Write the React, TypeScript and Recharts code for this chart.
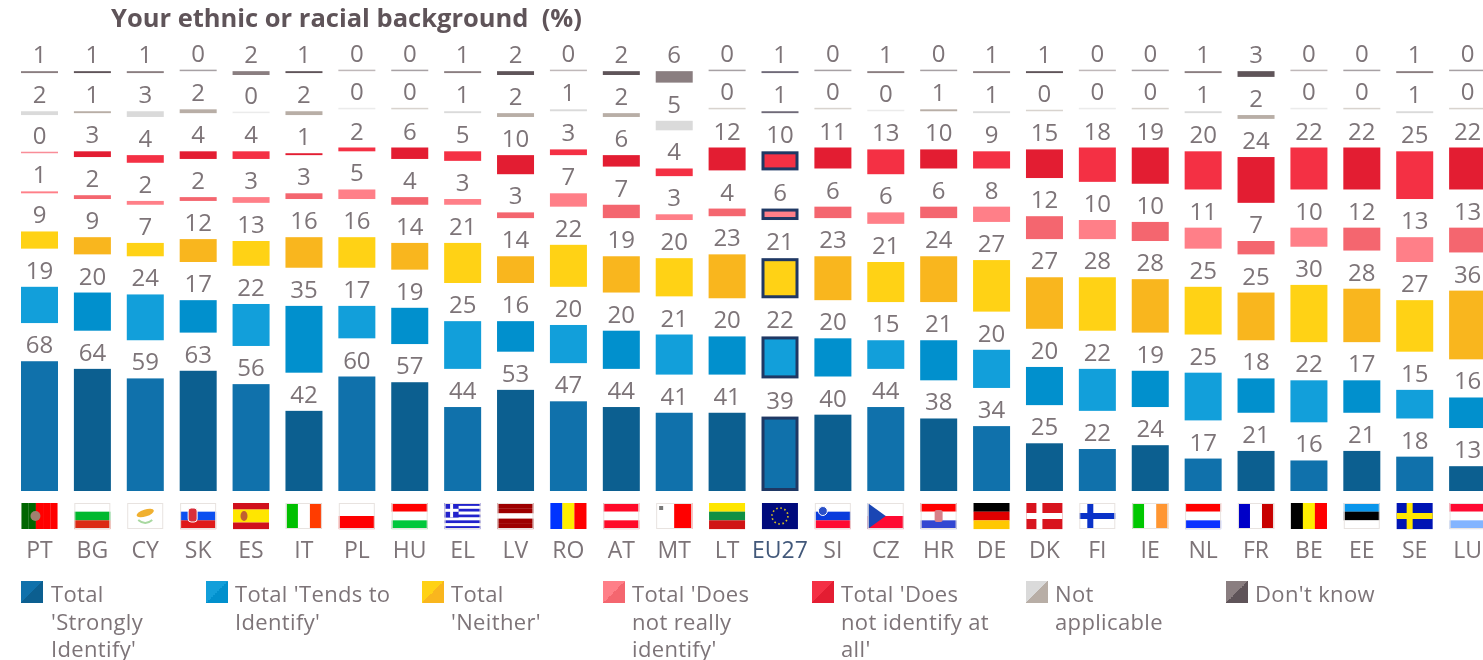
import { BarChart, Bar, XAxis, YAxis, LabelList } from "recharts";

const countries = ["PT","BG","CY","SK","ES","IT","PL","HU","EL","LV","RO","AT","MT","LT","EU27","SI","CZ","HR","DE","DK","FI","IE","NL","FR","BE","EE","SE","LU"];
const strongly = [68,64,59,63,56,42,60,57,44,53,47,44,41,41,39,40,44,38,34,25,22,24,17,21,16,21,18,13];
const tends = [19,20,24,17,22,35,17,19,25,16,20,20,21,20,22,20,15,21,20,20,22,19,25,18,22,17,15,16];
const neither = [9,9,7,12,13,16,16,14,21,14,22,19,20,23,21,23,21,24,27,27,28,28,25,25,30,28,27,36];
const notReally = [1,2,2,2,3,3,5,4,3,3,7,7,3,4,6,6,6,6,8,12,10,10,11,7,10,12,13,13];
const notAtAll = [0,3,4,4,4,1,2,6,5,10,3,6,4,12,10,11,13,10,9,15,18,19,20,24,22,22,25,22];
const notApplicable = [2,1,3,2,0,2,0,0,1,2,1,2,5,0,1,0,0,1,1,0,0,0,1,2,0,0,1,0];
const dontKnow = [1,1,1,0,2,1,0,0,1,2,0,2,6,0,1,0,1,0,1,1,0,0,1,3,0,0,1,0];

const GAP = 20; // empty room between the segments, holds the labels

const series = [
  { key: "strongly", values: strongly, light: "#1071ab", dark: "#0c5f90", legend: ["Total", "'Strongly", "Identify'"], swatchX: 21, textX: 51 },
  { key: "tends", values: tends, light: "#129fda", dark: "#0190cd", legend: ["Total 'Tends to", "Identify'"], swatchX: 206, textX: 235 },
  { key: "neither", values: neither, light: "#ffd215", dark: "#f9b61e", legend: ["Total", "'Neither'"], swatchX: 422, textX: 451 },
  { key: "notReally", values: notReally, light: "#ff7f88", dark: "#f4666f", legend: ["Total 'Does", "not really", "identify'"], swatchX: 603, textX: 632 },
  { key: "notAtAll", values: notAtAll, light: "#f43044", dark: "#e31d32", legend: ["Total 'Does", "not identify at", "all'"], swatchX: 812, textX: 841 },
  { key: "notApplicable", values: notApplicable, light: "#dadada", dark: "#b8aea6", legend: ["Not", "applicable"], swatchX: 1026, textX: 1055 },
  { key: "dontKnow", values: dontKnow, light: "#8a7e80", dark: "#5f5459", legend: ["Don't know"], swatchX: 1226, textX: 1255 },
];

const data = countries.map((name, i) => {
  const row: any = { name };
  series.forEach((s) => {
    row[s.key] = s.values[i];
    row[s.key + "Gap"] = GAP;
  });
  return row;
});

// stripes: [direction, colours], extra bits are added per flag below
const FLAGS: Record<string, [string, string[]]> = {
  PT: ["v", ["#006600", "#006600", "#ff0000", "#ff0000", "#ff0000"]],
  BG: ["h", ["#ffffff", "#00b82e", "#dc2a14"]],
  CY: ["h", ["#ffffff"]],
  SK: ["h", ["#ffffff", "#0b4ff0", "#e01a1a"]],
  ES: ["h", ["#d0101c", "#ffe600", "#ffe600", "#d0101c"]],
  IT: ["v", ["#00c000", "#ffffff", "#ff3c00"]],
  PL: ["h", ["#ffffff", "#ff0000"]],
  HU: ["h", ["#ff0000", "#ffffff", "#00c83c"]],
  EL: ["h", ["#2222cc", "#ffffff", "#2222cc", "#ffffff", "#2222cc", "#ffffff", "#2222cc", "#ffffff", "#2222cc"]],
  LV: ["h", ["#9e0000", "#9e0000", "#ffffff", "#9e0000", "#9e0000"]],
  RO: ["v", ["#0033ff", "#ffee00", "#ff0000"]],
  AT: ["h", ["#ff0a28", "#ffffff", "#ff0a28"]],
  MT: ["v", ["#ffffff", "#ff0000"]],
  LT: ["h", ["#ffe600", "#109044", "#d01414"]],
  EU27: ["h", ["#000a7c"]],
  SI: ["h", ["#ffffff", "#0a3cdc", "#ff0a32"]],
  CZ: ["h", ["#ffffff", "#ff0a32"]],
  HR: ["h", ["#ff0000", "#ffffff", "#3246d2"]],
  DE: ["h", ["#000000", "#e00000", "#ffc800"]],
  DK: ["h", ["#d8141e"]],
  FI: ["h", ["#ffffff"]],
  IE: ["v", ["#00c800", "#ffffff", "#ff9632"]],
  NL: ["h", ["#ff0000", "#ffffff", "#0a32ff"]],
  FR: ["v", ["#0000c8", "#ffffff", "#c80000"]],
  BE: ["v", ["#000000", "#ffee00", "#ff0000"]],
  EE: ["h", ["#0a96eb", "#000000", "#ffffff"]],
  SE: ["h", ["#0014b4"]],
  LU: ["h", ["#ff0a32", "#ffffff", "#82b4ff"]],
};

const CROSS: Record<string, [string, number]> = { DK: ["#ffffff", 13], FI: ["#0a32c8", 11], SE: ["#ffe600", 13] };

function Flag({ code, x, y }: { code: string; x: number; y: number }) {
  const [dir, cols] = FLAGS[code];
  const W = 36, H = 26;
  return (
    <g transform={`translate(${x - W / 2},${y})`}>
      {cols.map((c, i) =>
        dir === "h"
          ? <rect key={i} x={0} y={(H / cols.length) * i} width={W} height={H / cols.length + 0.1} fill={c} />
          : <rect key={i} x={(W / cols.length) * i} y={0} width={W / cols.length + 0.1} height={H} fill={c} />
      )}
      {CROSS[code] && (
        <>
          <rect x={CROSS[code][1] - 3} y={0} width={6} height={H} fill={CROSS[code][0]} />
          <rect x={0} y={H / 2 - 3} width={W} height={6} fill={CROSS[code][0]} />
        </>
      )}
      {code === "PT" && <circle cx={14} cy={13} r={5} fill="#a08070" />}
      {code === "CY" && (
        <>
          <ellipse cx={18} cy={10} rx={9} ry={3.5} fill="#f0b030" transform="rotate(-18 18 10)" />
          <path d="M11 17 Q18 23 25 17" stroke="#a8d8a0" strokeWidth={2} fill="none" />
        </>
      )}
      {code === "SK" && <rect x={8} y={5} width={9} height={14} rx={3} fill="#d8303c" stroke="#ffffff" />}
      {code === "ES" && <ellipse cx={11} cy={13} rx={3.5} ry={5} fill="#c06030" />}
      {code === "EL" && (
        <>
          <rect x={0} y={0} width={14} height={14.5} fill="#2222cc" />
          <rect x={5.5} y={0} width={3} height={14.5} fill="#ffffff" />
          <rect x={0} y={5.8} width={14} height={3} fill="#ffffff" />
        </>
      )}
      {code === "MT" && <rect x={3} y={3} width={4} height={4} fill="#777777" />}
      {code === "EU27" && <circle cx={18} cy={13} r={8} fill="none" stroke="#d8c020" strokeWidth={1.6} strokeDasharray="1.6 2.6" />}
      {code === "SI" && <circle cx={8} cy={8} r={4.5} fill="#2a50c8" stroke="#ffffff" />}
      {code === "CZ" && <path d="M0 0 L18 13 L0 26 Z" fill="#1a46b4" />}
      {code === "HR" && <rect x={14} y={7} width={8} height={12} rx={2} fill="#d88088" />}
      {(cols.includes("#ffffff") || code === "CY" || code === "FI") && (
        <rect x={0.5} y={0.5} width={W - 1} height={H - 1} fill="none" stroke="#e8e3e0" />
      )}
    </g>
  );
}

function CountryTick({ x, y, payload }: any) {
  return (
    <g>
      <Flag code={payload.value} x={x} y={y + 6} />
      <text x={x} y={y + 61} textAnchor="middle" fontSize={23} fill={payload.value === "EU27" ? "#42587a" : "#7d7478"}>
        {payload.value}
      </text>
    </g>
  );
}

// alternating shades per column, EU27 gets a navy frame inside its bar
const segment = (light: string, dark: string) => (p: any) => {
  const fill = p.index % 2 === 0 ? light : dark;
  const isZero = p.value === 0 || (Array.isArray(p.value) && p.value[1] === p.value[0]);
  if (countries[p.index] === "EU27") {
    if (p.height < 6) return <rect x={p.x} y={p.y} width={p.width} height={p.height} fill="#6f6a78" />;
    return <rect x={p.x + 1.5} y={p.y + 1.5} width={p.width - 3} height={p.height - 3} fill={fill} stroke="#1f3864" strokeWidth={3} />;
  }
  return <rect x={p.x} y={p.y} width={p.width} height={p.height} fill={fill} fillOpacity={isZero ? 0.55 : 1} />;
};

const FONT = "'Open Sans', 'Noto Sans', sans-serif";

export default function App() {
  return (
    <div style={{ position: "absolute", left: 0, top: 0, width: 1483, height: 660, overflow: "hidden", background: "#fff", fontFamily: FONT, filter: "blur(0.6px)" }}>
      <div style={{ position: "absolute", left: 111, top: 0, fontSize: 25.5, fontWeight: 700, color: "#5f5459", whiteSpace: "pre" }}>
        Your ethnic or racial background  (%)
      </div>
      <BarChart
        width={1510}
        height={660}
        data={data}
        margin={{ top: 33, right: 16, bottom: 0, left: 13 }}
        barSize={37}
        style={{ position: "absolute", left: 0, top: 0 }}
      >
        <XAxis dataKey="name" interval={0} axisLine={false} tickLine={false} height={169} tickMargin={0} tick={<CountryTick />} />
        <YAxis hide domain={[0, 240]} allowDataOverflow />
        {series.flatMap((s) => [
          <Bar key={s.key} dataKey={s.key} stackId="a" minPointSize={1.5} isAnimationActive={false} shape={segment(s.light, s.dark)}>
            <LabelList dataKey={s.key} position="top" offset={8} fontSize={24} fill="#7d7478" />
          </Bar>,
          <Bar key={s.key + "Gap"} dataKey={s.key + "Gap"} stackId="a" fill="none" isAnimationActive={false} />,
        ])}
      </BarChart>
      {series.map((s) => (
        <div key={s.key}>
          <div
            style={{
              position: "absolute", left: s.swatchX, top: 581, width: 22, height: 22,
              background: `linear-gradient(to bottom right, ${s.light} 50%, ${s.dark} 50%)`,
            }}
          />
          {s.legend.map((line, i) => (
            <div key={i} style={{ position: "absolute", left: s.textX, top: 581 + i * 27.5, fontSize: 22, letterSpacing: 0.35, lineHeight: "24px", color: "#7d7478", whiteSpace: "pre" }}>
              {line}
            </div>
          ))}
        </div>
      ))}
    </div>
  );
}
